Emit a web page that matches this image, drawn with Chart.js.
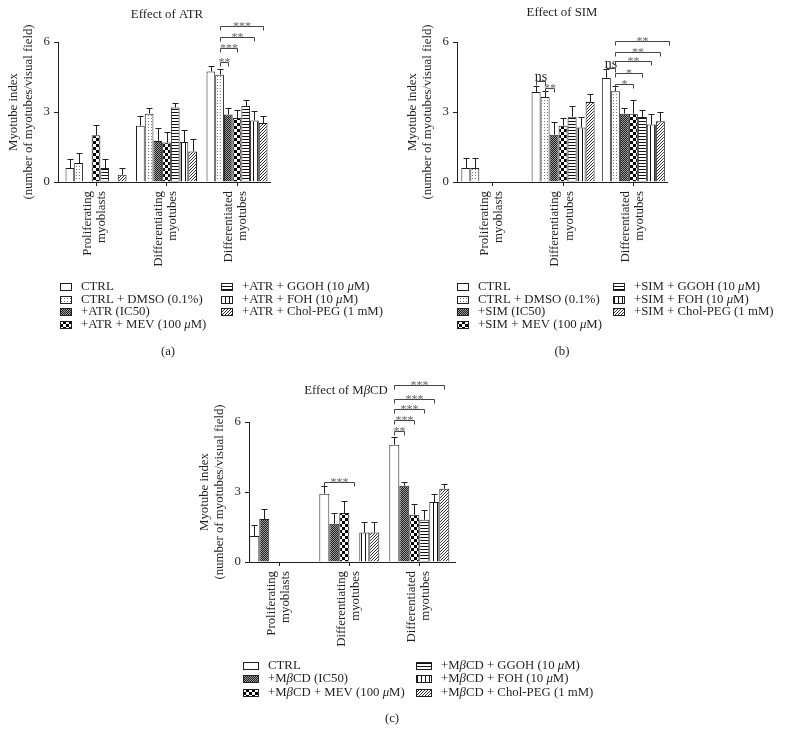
<!DOCTYPE html>
<html>
<head>
<meta charset="utf-8">
<script src="https://cdn.jsdelivr.net/npm/chart.js@4"></script>
<style>
  body { margin: 0; background: #fff; width: 786px; height: 745px; position: relative; overflow: hidden; }
  canvas { position: absolute; }
</style>
</head>
<body>
<canvas id="chartA" width="393" height="365" style="left:0;top:0"></canvas>
<canvas id="chartB" width="393" height="365" style="left:393px;top:0"></canvas>
<canvas id="chartC" width="786" height="380" style="left:0;top:365px"></canvas>
<script>
// ================= data =================
const categories = [['Proliferating', 'myoblasts'], ['Differentiating', 'myotubes'], ['Differentiated', 'myotubes']];
const yTicks = [0, 3, 6];

// (a) Effect of ATR
const atrNames = ['CTRL', 'CTRL + DMSO (0.1%)', '+ATR (IC50)', '+ATR + MEV (100 μM)', '+ATR + GGOH (10 μM)', '+ATR + FOH (10 μM)', '+ATR + Chol-PEG (1 mM)'];
const atrMeans = [[0.6, 2.41, 4.74], [0.81, 2.93, 4.6], [0, 1.76, 2.89], [2.0, 1.69, 2.74], [0.6, 3.19, 3.26], [0, 1.71, 2.64], [0.31, 1.31, 2.53]];
const atrErrors = [[0.4, 0.4, 0.23], [0.43, 0.26, 0.26], [0, 0.55, 0.28], [0.43, 0.45, 0.33], [0.4, 0.21, 0.24], [0, 0.53, 0.4], [0.29, 0.52, 0.3]];
// bracket: [category, from series, to series, height, label]
const atrSig = [[2, 1, 2, 5.13, '**'], [2, 1, 3, 5.73, '***'], [2, 1, 5, 6.2, '**'], [2, 1, 6, 6.67, '***']];

// (b) Effect of SIM
const simNames = ['CTRL', 'CTRL + DMSO (0.1%)', '+SIM (IC50)', '+SIM + MEV (100 μM)', '+SIM + GGOH (10 μM)', '+SIM + FOH (10 μM)', '+SIM + Chol-PEG (1 mM)'];
const simMeans = [[0.6, 3.86, 4.46], [0.6, 3.64, 3.89], [0, 2.03, 2.93], [0, 2.41, 2.93], [0, 2.8, 2.79], [0, 2.34, 2.46], [0, 3.43, 2.6]];
const simErrors = [[0.43, 0.25, 0.37], [0.43, 0.25, 0.21], [0, 0.54, 0.26], [0, 0.35, 0.57], [0, 0.46, 0.28], [0, 0.45, 0.44], [0, 0.36, 0.4]];
const simSig = [[1, 0, 1, 4.32, 'ns'], [1, 1, 2, 4.02, '**'], [2, 0, 1, 4.87, 'ns'], [2, 1, 3, 4.22, '*'], [2, 1, 4, 4.69, '*'], [2, 1, 5, 5.19, '**'], [2, 1, 6, 5.57, '**'], [2, 1, 7, 6.04, '**']];

// (c) Effect of MβCD
const mbcdNames = ['CTRL', '+MβCD (IC50)', '+MβCD + MEV (100 μM)', '+MβCD + GGOH (10 μM)', '+MβCD + FOH (10 μM)', '+MβCD + Chol-PEG (1 mM)'];
const mbcdMeans = [[1.11, 2.93, 5.03], [1.84, 1.64, 3.27], [0, 2.1, 2.03], [0, 0, 1.81], [0, 1.26, 2.57], [0, 1.26, 3.14]];
const mbcdErrors = [[0.46, 0.31, 0.33], [0.45, 0.47, 0.16], [0, 0.51, 0.46], [0, 0, 0.43], [0, 0.45, 0.33], [0, 0.45, 0.22]];
const mbcdSig = [[1, 0, 3, 3.43, '***'], [2, 0, 1, 5.6, '**'], [2, 0, 2, 6.07, '***'], [2, 0, 3, 6.54, '***'], [2, 0, 4, 7.0, '***'], [2, 0, 5, 7.57, '***']];

// ================= fills =================
const ink = '#231f20';
const FONT = '"Liberation Serif", "Times New Roman", serif';
const FS = 12.8;
Chart.defaults.font.family = FONT;
Chart.defaults.font.size = FS;
Chart.defaults.color = ink;

function makePattern(size, draw) {
  const c = document.createElement('canvas');
  c.width = size; c.height = size;
  const g = c.getContext('2d');
  g.fillStyle = '#fff';
  g.fillRect(0, 0, size, size);
  draw(g);
  return g.createPattern(c, 'repeat');
}
const fCtrl = '#fff';
const fDmso = makePattern(3, g => { g.fillStyle = '#777'; g.fillRect(1, 1, 1, 1); });
const fIc50 = makePattern(2, g => { g.fillStyle = '#222'; g.fillRect(0, 0, 1, 1); g.fillRect(1, 1, 1, 1); g.fillStyle = '#999'; g.fillRect(1, 0, 1, 1); g.fillRect(0, 1, 1, 1); });
const fMev = makePattern(6, g => { g.fillStyle = '#000'; g.fillRect(0, 0, 3, 3); g.fillRect(3, 3, 3, 3); });
const fGgoh = makePattern(3, g => { g.fillStyle = '#111'; g.fillRect(0, 1, 3, 1); });
const fFoh = makePattern(4, g => { g.fillStyle = '#111'; g.fillRect(1, 0, 1, 4); });
const fChol = makePattern(3, g => { g.fillStyle = '#333'; g.fillRect(2, 0, 1, 1); g.fillRect(1, 1, 1, 1); g.fillRect(0, 2, 1, 1); });

// text with italic greek letters
function richText(ctx, text, x, y, size, align) {
  const parts = text.split(/([μβ])/).filter(p => p);
  const fontOf = p => (/[μβ]/.test(p) ? 'italic ' : '') + size + 'px ' + FONT;
  let w = 0;
  parts.forEach(p => { ctx.font = fontOf(p); w += ctx.measureText(p).width; });
  let cx = align === 'center' ? x - w / 2 : x;
  ctx.textAlign = 'left';
  parts.forEach(p => { ctx.font = fontOf(p); ctx.fillText(p, cx, y); cx += ctx.measureText(p).width; });
}

// ================= plugin: error bars, brackets, titles, legend =================
const decor = {
  id: 'decor',
  afterDraw(chart, args, o) {
    const ctx = chart.ctx;
    const ys = chart.scales.y;
    const area = chart.chartArea;
    ctx.save();
    ctx.strokeStyle = ink;
    ctx.lineWidth = 1;

    // error bars
    chart.data.datasets.forEach((ds, k) => {
      chart.getDatasetMeta(k).data.forEach((bar, i) => {
        const e = ds.errors[i];
        if (!e) return;
        const top = Math.round(ys.getPixelForValue(ds.data[i].y + e)) + 0.5;
        const x = Math.round(bar.x) + 0.5;
        ctx.beginPath();
        ctx.moveTo(x, bar.y);
        ctx.lineTo(x, top);
        ctx.moveTo(x - 3, top);
        ctx.lineTo(x + 3, top);
        ctx.stroke();
      });
    });

    // significance brackets
    const first = chart.getDatasetMeta(0).data;
    o.sig.forEach(([cat, from, to, h, label]) => {
      const b = first[cat];
      const x0 = Math.round(b.x + from * b.width) + 0.5;
      const x1 = Math.round(b.x + to * b.width) + 0.5;
      const y = Math.round(ys.getPixelForValue(h)) + 0.5;
      ctx.strokeStyle = '#444';
      ctx.beginPath();
      ctx.moveTo(x0, y + 4);
      ctx.lineTo(x0, y);
      ctx.lineTo(x1, y);
      ctx.lineTo(x1, y + 4);
      ctx.stroke();
      ctx.textBaseline = 'alphabetic';
      if (label === 'ns') {
        ctx.fillStyle = ink;
        richText(ctx, label, (x0 + x1) / 2, y - 1, 14, 'center');
      } else {
        ctx.fillStyle = '#666';
        richText(ctx, label, (x0 + x1) / 2, y + 3, 12, 'center');
      }
    });

    ctx.fillStyle = ink;
    ctx.textBaseline = 'middle';
    // title
    richText(ctx, o.title, o.titleX, o.titleY, FS, 'center');
    // panel letter
    richText(ctx, o.letter, o.letterX, o.letterY, FS, 'center');

    // y axis title
    const midY = (area.top + area.bottom) / 2;
    ['Myotube index', '(number of myotubes/visual field)'].forEach((t, i) => {
      ctx.save();
      ctx.translate(area.left - 44 + i * 15, midY);
      ctx.rotate(-Math.PI / 2);
      richText(ctx, t, 0, 0, FS, 'center');
      ctx.restore();
    });

    // legend
    o.legend.forEach((col, c) => {
      col.forEach((k, r) => {
        const ds = chart.data.datasets[k];
        const sx = o.legX[c], sy = o.legY[r];
        ctx.fillStyle = ds.backgroundColor;
        ctx.fillRect(sx, Math.round(sy - 4), o.swW, 8);
        ctx.strokeStyle = ink;
        ctx.strokeRect(sx + 0.5, Math.round(sy - 4) + 0.5, o.swW - 1, 7);
        ctx.fillStyle = ink;
        richText(ctx, ds.label, sx + o.swW + 9, sy, FS, 'left');
      });
    });
    ctx.restore();
  }
};

const panelFills7 = [fCtrl, fDmso, fIc50, fMev, fGgoh, fFoh, fChol];
const panelFills6 = [fCtrl, fIc50, fMev, fGgoh, fFoh, fChol];

function buildChart(id, names, means, errors, fills, p) {
  return new Chart(document.getElementById(id), {
    type: 'bar',
    data: {
      datasets: names.map((n, k) => ({
        label: n,
        data: means[k].map((v, i) => ({ x: i, y: v })),
        errors: errors[k],
        backgroundColor: fills[k],
        borderColor: ink,
        borderWidth: 1,
        categoryPercentage: p.catPct,
        barPercentage: 1
      }))
    },
    options: {
      responsive: false,
      animation: false,
      layout: { padding: p.padding },
      plugins: { legend: { display: false }, tooltip: { enabled: false }, decor: p.decor },
      scales: {
        x: {
          type: 'linear',
          offset: false,
          min: p.xMin,
          max: p.xMax,
          afterBuildTicks: s => { s.ticks = categories.map((c, i) => ({ value: i })); },
          afterFit: s => { s.height = 90; },
          grid: { offset: false, drawOnChartArea: false, tickLength: 4, color: ink },
          border: { color: ink },
          ticks: { autoSkip: false, minRotation: 90, maxRotation: 90, padding: 5, labelOffset: -8, color: ink, font: { size: FS, lineHeight: 1.1 }, callback: v => categories[v] }
        },
        y: {
          min: 0,
          max: 6,
          afterBuildTicks: s => { s.ticks = yTicks.map(v => ({ value: v })); },
          afterFit: s => { s.width = 20; },
          grid: { drawOnChartArea: false, tickLength: 4, color: ink },
          border: { color: ink },
          ticks: { padding: 4, color: ink, font: { size: FS } }
        }
      }
    },
    plugins: [decor]
  });
}

// (a)
buildChart('chartA', atrNames, atrMeans, atrErrors, panelFills7, {
  catPct: 0.865, xMin: -0.539, xMax: 2.468,
  padding: { left: 38, right: 123, top: 42, bottom: 93 },
  decor: {
    sig: atrSig, title: 'Effect of ATR', titleX: 167, titleY: 15, letter: '(a)', letterX: 168, letterY: 352,
    legend: [[0, 1, 2, 3], [4, 5, 6]], legX: [60, 221], legY: [287, 299.5, 312, 324.5], swW: 12
  }
});

// (b)
buildChart('chartB', simNames, simMeans, simErrors, panelFills7, {
  catPct: 0.897, xMin: -0.51, xMax: 2.479,
  padding: { left: 44, right: 119, top: 42, bottom: 93 },
  decor: {
    sig: simSig, title: 'Effect of SIM', titleX: 169, titleY: 13, letter: '(b)', letterX: 169, letterY: 352,
    legend: [[0, 1, 2, 3], [4, 5, 6]], legX: [64, 220], legY: [287, 299.5, 312, 324.5], swW: 12
  }
});

// (c)
buildChart('chartC', mbcdNames, mbcdMeans, mbcdErrors, panelFills6, {
  catPct: 0.857, xMin: -0.433, xMax: 2.51,
  padding: { left: 229, right: 331, top: 57, bottom: 93 },
  decor: {
    sig: mbcdSig, title: 'Effect of MβCD', titleX: 346, titleY: 26, letter: '(c)', letterX: 392, letterY: 354,
    legend: [[0, 1, 2], [3, 4, 5]], legX: [243, 416], legY: [300.5, 314, 327.5], swW: 16
  }
});
</script>
</body>
</html>
